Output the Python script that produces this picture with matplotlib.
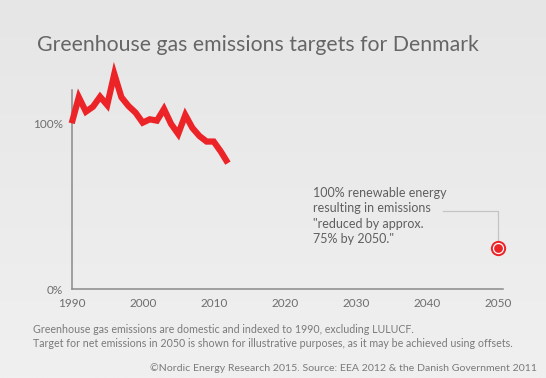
import matplotlib
matplotlib.use("Agg")
import matplotlib.pyplot as plt
import numpy as np
from matplotlib.colors import LinearSegmentedColormap

# ---- data ----
years = list(range(1990, 2013))
emissions = [100, 115.7, 107, 110, 116, 111, 129.7, 115.7, 110.4, 106.4,
             100.4, 102.4, 101.6, 108.6, 99.6, 93.6, 105, 97.2, 92.3,
             89, 89, 83, 76]
target_year = [2050]
target_value = [25]
x_ticks = [1990, 2000, 2010, 2020, 2030, 2040, 2050]
y_ticks = [0, 100]
y_tick_labels = ["0%", "100%"]

title = "Greenhouse gas emissions targets for Denmark"
annotation = ('100% renewable energy\nresulting in emissions\n'
              '"reduced by approx.\n75% by 2050."')
note = ("Greenhouse gas emissions are domestic and indexed to 1990, excluding LULUCF.\n"
        "Target for net emissions in 2050 is shown for illustrative purposes, as it may be achieved using offsets.")
source = "©Nordic Energy Research 2015. Source: EEA 2012 & the Danish Government 2011"

RED = "#ec2327"
plt.rcParams['font.family'] = ['Lato', 'DejaVu Sans']

W, H = 546, 378
fig = plt.figure(figsize=(W / 100, H / 100), dpi=100)

# background gradient
bg = fig.add_axes([0, 0, 1, 1], zorder=-10)
cmap = LinearSegmentedColormap.from_list("bg", ["#e6e6e6", "#f0f0f0"])
bg.imshow(np.linspace(0, 1, 256).reshape(-1, 1), aspect="auto", cmap=cmap,
          extent=[0, 1, 0, 1])
bg.set_axis_off()

# main axes placement (pixel mapping)
x0_px, px_per_year = 71.7, 7.1
y0_px, px_per_pct = 289.3, 1.66
xmin, xmax = 1990, 2050.8
ymin, ymax = 0, 135
left = x0_px / W
width = (xmax - xmin) * px_per_year / W
bottom = (H - y0_px) / H
height = (ymax - ymin) * px_per_pct / H
ax = fig.add_axes([left, bottom, width, height])
ax.patch.set_alpha(0)
ax.set_xlim(xmin, xmax)
ax.set_ylim(ymin, ymax)

for s in ["top", "right"]:
    ax.spines[s].set_visible(False)
for s in ["left", "bottom"]:
    ax.spines[s].set_color("#8a8a8a")
    ax.spines[s].set_linewidth(1.1)
ax.spines["left"].set_bounds(0, 120)

ax.set_xticks(x_ticks)
ax.set_xticklabels([str(x) for x in x_ticks])
ax.set_yticks(y_ticks)
ax.set_yticklabels(y_tick_labels)
ax.tick_params(axis="both", length=0, labelsize=8.5, labelcolor="#6e6e6e")
ax.tick_params(axis="x", pad=6)
ax.tick_params(axis="y", pad=6)

ax.plot(years, emissions, color=RED, lw=4.5, solid_joinstyle="miter",
        solid_capstyle="butt", clip_on=False, zorder=3)

# target marker with callout
ax.plot(target_year, target_value, "o", ms=11, color=RED, mec="none",
        clip_on=False, zorder=5)
ax.plot(target_year, target_value, "o", ms=7.2, mfc="none", mec="white",
        mew=0.9, clip_on=False, zorder=6)
ax.plot([2042.3, target_year[0], target_year[0]],
        [47.2, 47.2, target_value[0] + 5], color="#c4c4c4", lw=0.9, zorder=2)

ax.text(2024.0, 44.2, annotation, fontsize=9, color="#5f5f5f",
        va="center", ha="left", linespacing=1.35)

fig.text(37 / W, 1 - 45 / H, title, fontsize=15.3, color="#666666",
         va="center", ha="left")
fig.text(33 / W, 1 - 336.5 / H, note, fontsize=7.65, color="#7a7a7a",
         va="center", ha="left", linespacing=1.3)
fig.text(537 / W, 1 - 368 / H, source, fontsize=7.55, color="#7a7a7a",
         va="center", ha="right")

fig.savefig("out.png", dpi=100)
